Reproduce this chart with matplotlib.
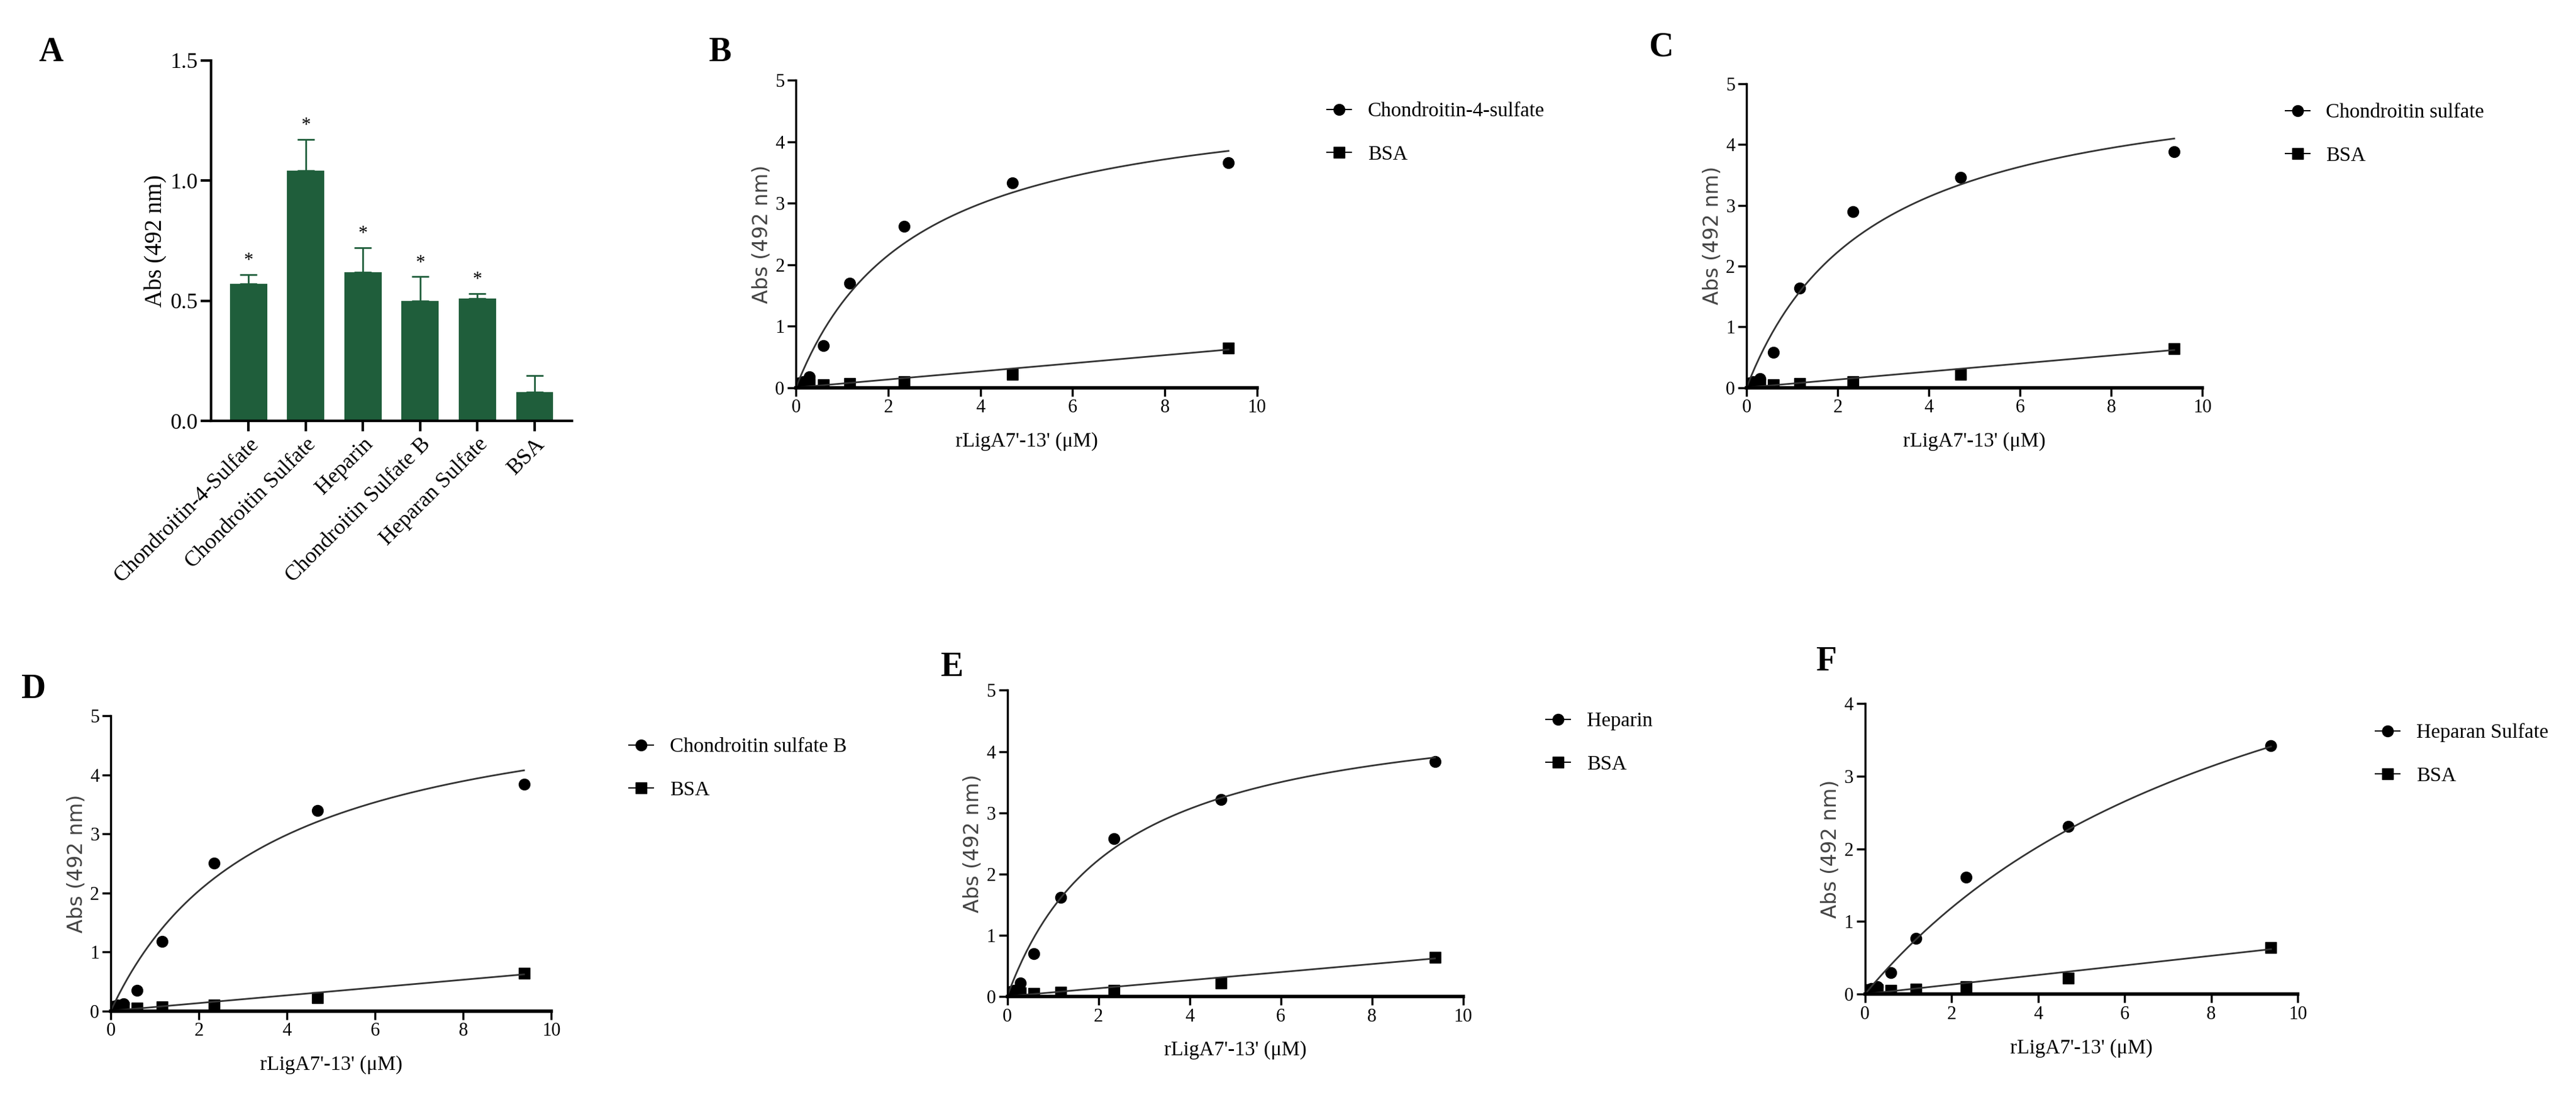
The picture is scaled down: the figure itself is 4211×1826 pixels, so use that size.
import numpy as np
import matplotlib
matplotlib.use("Agg")
import matplotlib.pyplot as plt

plt.rcParams['font.family'] = 'Liberation Serif'

# Panel A data
cats = ["Chondroitin-4-Sulfate", "Chondroitin Sulfate", "Heparin",
        "Chondroitin Sulfate B", "Heparan Sulfate", "BSA"]
vals = [0.57, 1.04, 0.62, 0.50, 0.51, 0.12]
errs = [0.04, 0.13, 0.10, 0.10, 0.02, 0.07]
stars = [True, True, True, True, True, False]

# Binding curves
conc = [0.0, 0.07, 0.15, 0.29, 0.59, 1.17, 2.34, 4.69, 9.38]
gag_b = [0.05, 0.08, 0.10, 0.18, 0.68, 1.70, 2.62, 3.33, 3.66]
gag_c = [0.05, 0.08, 0.10, 0.15, 0.58, 1.64, 2.90, 3.46, 3.88]
gag_d = [0.05, 0.08, 0.10, 0.12, 0.35, 1.18, 2.50, 3.40, 3.84]
gag_e = [0.05, 0.08, 0.10, 0.22, 0.70, 1.62, 2.58, 3.22, 3.84]
gag_f = [0.05, 0.06, 0.08, 0.10, 0.30, 0.77, 1.61, 2.31, 3.42]
bsa = [0.05, 0.05, 0.06, 0.06, 0.05, 0.07, 0.10, 0.22, 0.64]
# fit parameters (Bmax, Kd) for hyperbolic fits, BSA slope
fits = {"B": (4.9, 2.55), "C": (5.3, 2.75), "D": (5.6, 3.5), "E": (4.9, 2.4), "F": (6.9, 9.6)}
bsa_slope = 0.066

fig = plt.figure(figsize=(42.11, 18.26), dpi=100)
green = "#1f5e3b"

# Panel A
axA = fig.add_axes([0.082, 0.623, 0.140, 0.323])
x = np.arange(len(cats))
axA.bar(x, vals, width=0.65, color=green)
axA.errorbar(x, vals, yerr=[np.zeros(len(errs)), errs], fmt='none', ecolor=green,
             capsize=10, elinewidth=2, capthick=2)
for xi, v, e, s in zip(x, vals, errs, stars):
    if s:
        axA.text(xi, v + e + 0.02, "*", ha='center', va='bottom', fontsize=22)
axA.set_ylim(0, 1.5)
axA.set_xlim(-0.65, 5.65)
axA.set_yticks([0, 0.5, 1.0, 1.5])
axA.set_yticklabels(["0.0", "0.5", "1.0", "1.5"])
axA.set_xticks(x)
axA.set_xticklabels(cats, rotation=45, ha='right', rotation_mode='anchor')
axA.set_ylabel("Abs (492 nm)", fontsize=28)
axA.tick_params(labelsize=26, width=3, length=12)
for s in ['top', 'right']:
    axA.spines[s].set_visible(False)
for s in ['left', 'bottom']:
    axA.spines[s].set_linewidth(3)
fig.text(0.015, 0.945, "A", fontsize=40, fontweight='bold')

def curve_panel(rect, label, lxy, gag, name, key, ymax, legpos):
    ax = fig.add_axes(rect)
    ax.plot(conc, gag, 'o', color='black', ms=13, label=name)
    ax.plot(conc, bsa, 's', color='black', ms=13, label="BSA")
    xx = np.linspace(0, 9.38, 200)
    bm, kd = fits[key]
    ax.plot(xx, bm * xx / (kd + xx), color='#333333', lw=2)
    ax.plot(xx, bsa_slope * xx, color='#333333', lw=2)
    ax.set_xlim(0, 10)
    ax.set_ylim(0, ymax)
    ax.set_xticks([0, 2, 4, 6, 8, 10])
    ax.set_yticks(range(0, ymax + 1))
    ax.set_xlabel("rLigA7'-13' (\u03bcM)", fontsize=24, labelpad=18)
    ax.set_ylabel("Abs (492 nm)", fontsize=24, family='DejaVu Sans', color='#444444')
    ax.tick_params(labelsize=22, width=2.5, length=10)
    for s in ['top', 'right']:
        ax.spines[s].set_visible(False)
    ax.spines['left'].set_linewidth(2.5)
    ax.spines['bottom'].set_linewidth(4)
    h, l = ax.get_legend_handles_labels()
    from matplotlib.lines import Line2D
    hs = [Line2D([], [], color='black', marker='o', ms=13, lw=1.5),
          Line2D([], [], color='black', marker='s', ms=13, lw=1.5)]
    fig.legend(hs, [name, "BSA"], loc='upper left', bbox_to_anchor=legpos, frameon=False,
               fontsize=24, handlelength=1.2, labelspacing=1.2)
    fig.text(lxy[0], lxy[1], label, fontsize=40, fontweight='bold')

curve_panel([0.309, 0.653, 0.179, 0.275], "B", (0.275, 0.945), gag_b, "Chondroitin-4-sulfate", "B", 5, (0.508, 0.925))
curve_panel([0.678, 0.653, 0.177, 0.272], "C", (0.640, 0.950), gag_c, "Chondroitin sulfate", "C", 5, (0.880, 0.924))
curve_panel([0.043, 0.095, 0.171, 0.264], "D", (0.008, 0.375), gag_d, "Chondroitin sulfate B", "D", 5, (0.237, 0.356))
curve_panel([0.391, 0.108, 0.177, 0.274], "E", (0.365, 0.395), gag_e, "Heparin", "E", 5, (0.593, 0.379))
curve_panel([0.724, 0.110, 0.168, 0.260], "F", (0.705, 0.400), gag_f, "Heparan Sulfate", "F", 4, (0.915, 0.369))

fig.savefig("out.png", dpi=100)
